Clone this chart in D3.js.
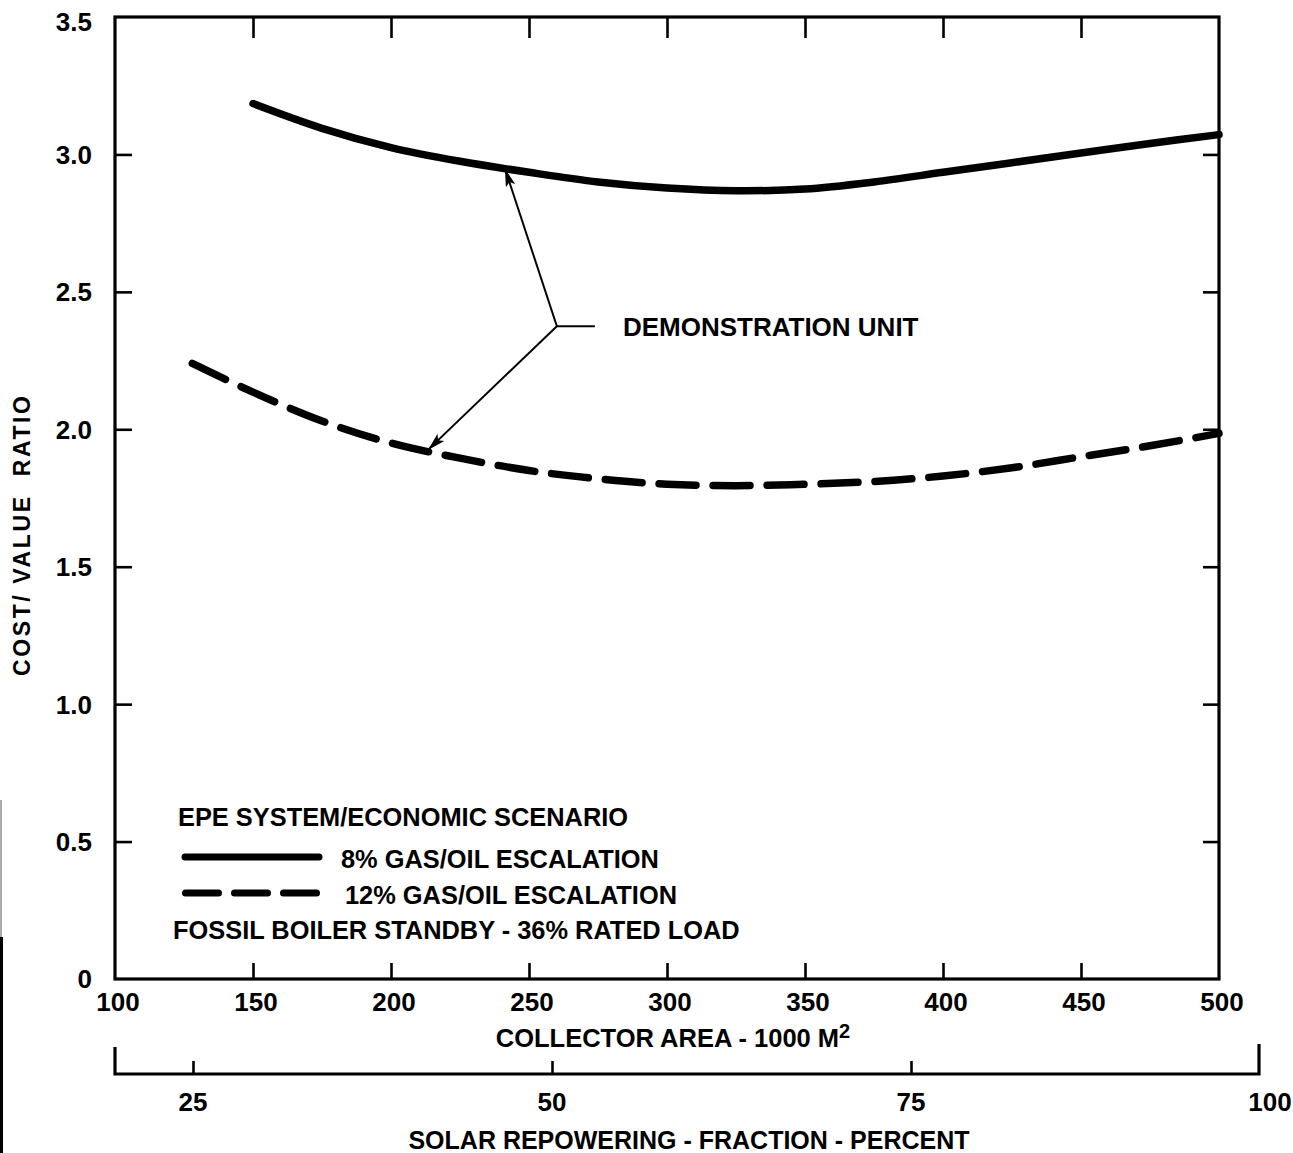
<!DOCTYPE html>
<html>
<head>
<meta charset="utf-8">
<script src="https://cdn.jsdelivr.net/npm/d3@7"></script>
<style>
  html, body { margin: 0; padding: 0; background: #fff; }
  svg { display: block; }
  text { font-family: "Liberation Sans", Arial, Helvetica, sans-serif; fill: #000; }
</style>
</head>
<body>
<svg id="chart" width="1293" height="1153"></svg>
<script>
// ---------------- data ----------------
const collectorArea8 = [150, 175, 200, 225, 250, 275, 300, 325, 350, 375, 400, 425, 450, 475, 500];
const ratio8 = [3.185, 3.095, 3.025, 2.975, 2.935, 2.90, 2.878, 2.868, 2.874, 2.90, 2.935, 2.97, 3.005, 3.04, 3.072];

const collectorArea12 = [128, 150, 175, 200, 225, 250, 275, 300, 325, 350, 375, 400, 425, 450, 475, 500];
const ratio12 = [2.24, 2.135, 2.03, 1.95, 1.895, 1.85, 1.82, 1.80, 1.795, 1.80, 1.81, 1.83, 1.86, 1.90, 1.94, 1.985];

const xTicks = [100, 150, 200, 250, 300, 350, 400, 450, 500];
const yTicks = [0, 0.5, 1.0, 1.5, 2.0, 2.5, 3.0, 3.5];
const yTickLabels = ["0", "0.5", "1.0", "1.5", "2.0", "2.5", "3.0", "3.5"];
const fractionTicks = [25, 50, 75, 100];

const seriesNames = ["8% GAS/OIL ESCALATION", "12% GAS/OIL ESCALATION"];
const legendTitle = "EPE SYSTEM/ECONOMIC SCENARIO";
const legendNote = "FOSSIL BOILER STANDBY - 36% RATED LOAD";
const annotationText = "DEMONSTRATION UNIT";
// annotation anchor points in data coordinates
const annotJunction = [260.1, 2.375];
const annotTargets = [[241.3, 2.948], [213.4, 1.925]];

// ---------------- layout ----------------
const svg = d3.select("#chart");
const x = d3.scaleLinear().domain([100, 500]).range([115, 1219]);
const y = d3.scaleLinear().domain([0, 3.5]).range([979, 17]);
const fx = d3.scaleLinear().domain([25, 100]).range([193, 1270]);
const fracAxisY = 1074;
const fracAxisRight = 1259;

const tickFont = "bold 26px 'Liberation Sans', Arial, sans-serif";

// scan edge artifact at far left
svg.append("line").attr("x1", 1).attr("x2", 1).attr("y1", 800).attr("y2", 937)
  .attr("stroke", "#aaa").attr("stroke-width", 2);
svg.append("line").attr("x1", 1.5).attr("x2", 1.5).attr("y1", 937).attr("y2", 1153)
  .attr("stroke", "#000").attr("stroke-width", 3);

// frame
svg.append("rect")
  .attr("x", x(100)).attr("y", y(3.5))
  .attr("width", x(500) - x(100)).attr("height", y(0) - y(3.5))
  .attr("fill", "none").attr("stroke", "#000").attr("stroke-width", 3.2);

function styleAxis(g) {
  g.select(".domain").remove();
  g.selectAll(".tick line").attr("stroke", "#000").attr("stroke-width", 2.6);
}

const innerX = xTicks.filter(d => d > 100 && d < 500);
const innerY = yTicks.filter(d => d > 0 && d < 3.5);

svg.append("g").attr("transform", `translate(0,${y(3.5)})`)
  .call(d3.axisTop(x).tickValues(innerX).tickSize(-21).tickFormat(""))
  .call(styleAxis);
svg.append("g").attr("transform", `translate(0,${y(0)})`)
  .call(d3.axisBottom(x).tickValues(innerX).tickSize(-16).tickFormat(""))
  .call(styleAxis);
svg.append("g").attr("transform", `translate(${x(100)},0)`)
  .call(d3.axisLeft(y).tickValues(innerY).tickSize(-17).tickFormat(""))
  .call(styleAxis);
svg.append("g").attr("transform", `translate(${x(500)},0)`)
  .call(d3.axisRight(y).tickValues(innerY).tickSize(-16).tickFormat(""))
  .call(styleAxis);

// y tick labels
svg.append("g").selectAll("text").data(yTicks).join("text")
  .attr("x", 92).attr("y", d => d === 3.5 ? y(d) + 5 : y(d))
  .attr("dy", "0.36em")
  .attr("text-anchor", "end")
  .style("font", tickFont)
  .text((d, i) => yTickLabels[i]);

// x tick labels
svg.append("g").selectAll("text").data(xTicks).join("text")
  .attr("x", d => x(d) + 3).attr("y", 1002)
  .attr("dy", "0.36em")
  .attr("text-anchor", "middle")
  .style("font", tickFont)
  .text(d => d);

// x axis title
const xt = svg.append("text").attr("x", 673).attr("y", 1038).attr("dy", "0.36em")
  .attr("text-anchor", "middle")
  .style("font", "bold 25.5px 'Liberation Sans', Arial, sans-serif");
xt.append("tspan").text("COLLECTOR AREA - 1000 M");
xt.append("tspan").attr("dy", "-0.45em").style("font-size", "20px").text("2");

// y axis title
svg.append("text")
  .attr("transform", "translate(22,536) rotate(-90)")
  .attr("dy", "0.36em")
  .attr("text-anchor", "middle")
  .attr("textLength", 280).attr("lengthAdjust", "spacing")
  .style("font", "bold 23px 'Liberation Sans', Arial, sans-serif")
  .style("white-space", "pre")
  .text("COST/ VALUE  RATIO");

// secondary (fraction) axis
svg.append("path")
  .attr("d", `M${x(100)},${fracAxisY - 27}V${fracAxisY}H${fracAxisRight}V${fracAxisY - 30}`)
  .attr("fill", "none").attr("stroke", "#000").attr("stroke-width", 3.2);
svg.append("g").attr("transform", `translate(0,${fracAxisY})`)
  .call(d3.axisBottom(fx).tickValues(fractionTicks.filter(d => d < 100)).tickSize(-13).tickFormat(""))
  .call(styleAxis);
svg.append("g").selectAll("text").data(fractionTicks).join("text")
  .attr("x", d => fx(d)).attr("y", 1102)
  .attr("dy", "0.36em")
  .attr("text-anchor", "middle")
  .style("font", tickFont)
  .text(d => d);
svg.append("text").attr("x", 689).attr("y", 1140).attr("dy", "0.36em")
  .attr("text-anchor", "middle")
  .style("font", "bold 25px 'Liberation Sans', Arial, sans-serif")
  .text("SOLAR REPOWERING - FRACTION - PERCENT");

// ---------------- curves ----------------
const line = d3.line().x(d => x(d[0])).y(d => y(d[1])).curve(d3.curveCatmullRom.alpha(0.5));
const pts8 = collectorArea8.map((v, i) => [v, ratio8[i]]);
const pts12 = collectorArea12.map((v, i) => [v, ratio12[i]]);

svg.append("path").attr("d", line(pts8))
  .attr("fill", "none").attr("stroke", "#000").attr("stroke-width", 7.5)
  .attr("stroke-linecap", "round").attr("stroke-linejoin", "round");
svg.append("path").attr("d", line(pts12))
  .attr("fill", "none").attr("stroke", "#000").attr("stroke-width", 7.5)
  .attr("stroke-dasharray", "37 17")
  .attr("stroke-linecap", "round").attr("stroke-linejoin", "round");

// ---------------- annotation ----------------
const defs = svg.append("defs");
defs.append("marker").attr("id", "arrow")
  .attr("viewBox", "0 0 18 10").attr("refX", 18).attr("refY", 5)
  .attr("markerWidth", 18).attr("markerHeight", 10)
  .attr("markerUnits", "userSpaceOnUse")
  .attr("orient", "auto")
  .append("path").attr("d", "M0,0L18,5L0,10L4,5Z").attr("fill", "#000");

const jx = x(annotJunction[0]), jy = y(annotJunction[1]);
annotTargets.forEach(t => {
  svg.append("line")
    .attr("x1", jx).attr("y1", jy).attr("x2", x(t[0])).attr("y2", y(t[1]))
    .attr("stroke", "#000").attr("stroke-width", 2)
    .attr("marker-end", "url(#arrow)");
});
svg.append("line").attr("x1", jx).attr("y1", jy).attr("x2", jx + 38).attr("y2", jy)
  .attr("stroke", "#000").attr("stroke-width", 2);
svg.append("text").attr("x", jx + 66).attr("y", jy).attr("dy", "0.36em")
  .style("font", "bold 26px 'Liberation Sans', Arial, sans-serif")
  .text(annotationText);

// ---------------- legend ----------------
const legFont = "bold 25.4px 'Liberation Sans', Arial, sans-serif";
svg.append("text").attr("x", 178).attr("y", 817).attr("dy", "0.36em")
  .style("font", legFont).text(legendTitle);
svg.append("line").attr("x1", 185).attr("x2", 319).attr("y1", 857).attr("y2", 857)
  .attr("stroke", "#000").attr("stroke-width", 7).attr("stroke-linecap", "round");
svg.append("text").attr("x", 341).attr("y", 859).attr("dy", "0.36em")
  .style("font", legFont).text(seriesNames[0]);
svg.append("line").attr("x1", 185.5).attr("x2", 316.5).attr("y1", 893).attr("y2", 893)
  .attr("stroke", "#000").attr("stroke-width", 7).attr("stroke-linecap", "round")
  .attr("stroke-dasharray", "33 16");
svg.append("text").attr("x", 345).attr("y", 895).attr("dy", "0.36em")
  .style("font", legFont).text(seriesNames[1]);
svg.append("text").attr("x", 173).attr("y", 930).attr("dy", "0.36em")
  .style("font", legFont).text(legendNote);
</script>
</body>
</html>
